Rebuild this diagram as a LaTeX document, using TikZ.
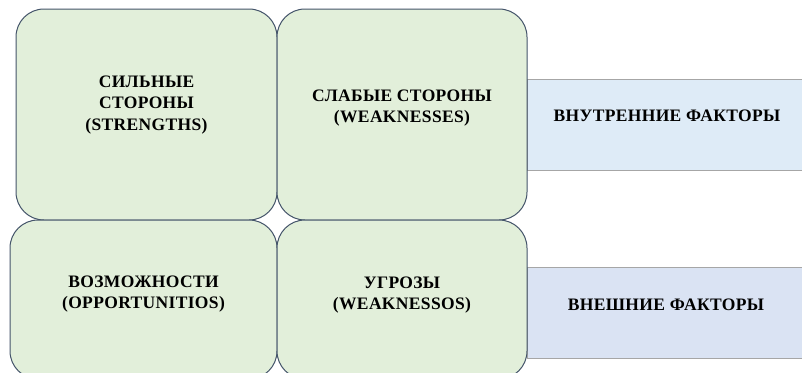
\documentclass[tikz,border=0pt]{standalone}
\usepackage{fontspec}
\setmainfont{Liberation Serif}
\definecolor{swotgreen}{HTML}{E2EFDA}
\definecolor{swotline}{HTML}{44546A}
\definecolor{innerblue}{HTML}{DEEBF7}
\definecolor{outerblue}{HTML}{DAE3F3}
\definecolor{factorline}{HTML}{A6A6A6}
\begin{document}
\begin{tikzpicture}[x=1pt, y=-1pt,
    swot/.style={draw=swotline, fill=swotgreen, line width=1pt, rounded corners=28pt},
    factor/.style={draw=factorline, line width=1pt},
    lbl/.style={align=center, text=black, font=\fontsize{17.5}{21.5}\selectfont\bfseries\addfontfeature{LetterSpace=2}}]
    \useasboundingbox (0,0) rectangle (802,372);
    \clip (0,0) rectangle (802,372);
    \fill[white] (0,0) rectangle (802,372);

    % Factor bars
    \draw[factor, fill=innerblue] (527,79) rectangle (812,170);
    \draw[factor, fill=outerblue] (527,267) rectangle (812,358);
    \node[lbl] (internal) at (667,116) {ВНУТРЕННИЕ ФАКТОРЫ};
    \node[lbl] (external) at (666,305) {ВНЕШНИЕ ФАКТОРЫ};

    % SWOT matrix
    \draw[swot] (16,9) rectangle (277,220);
    \draw[swot] (277,9) rectangle (527,220);
    \draw[swot] (10,220) rectangle (277,379);
    \draw[swot] (277,220) rectangle (527,379);

    \node[lbl] (strengths) at (146.5,105) {СИЛЬНЫЕ\\СТОРОНЫ\\(STRENGTHS)};
    \node[lbl] (weaknesses) at (402,108) {СЛАБЫЕ СТОРОНЫ\\(WEAKNESSES)};
    \node[lbl] (opportunities) at (143.5,294) {ВОЗМОЖНОСТИ\\(OPPORTUNITIOS)};
    \node[lbl] (threats) at (402,295) {УГРОЗЫ\\(WEAKNESSOS)};
\end{tikzpicture}
\end{document}
